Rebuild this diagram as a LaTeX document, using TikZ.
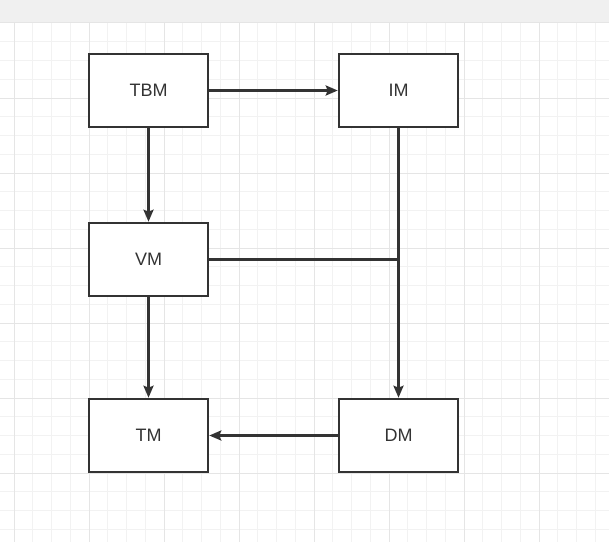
\documentclass[tikz,border=0pt]{standalone}
\usepackage{fontspec}
\setmainfont{Liberation Sans}
\usetikzlibrary{arrows.meta}
\definecolor{gridminor}{HTML}{F2F2F2}
\definecolor{gridmajor}{HTML}{E5E5E5}
\definecolor{topbar}{HTML}{F0F0F0}
\definecolor{ink}{HTML}{333333}
\begin{document}
\begin{tikzpicture}[x=0.75pt,y=-0.75pt,
  box/.style={draw=ink, line width=1.9pt, fill=white, minimum width=89.25pt, minimum height=54.75pt, inner sep=0pt, font=\fontsize{13.5}{16}\selectfont, text=ink},
  conn/.style={draw=ink, line width=1.9pt},
  arr/.style={conn, -{Stealth[length=9pt,width=7.5pt,inset=1.5pt]}}]
\useasboundingbox (0,0) rectangle (609,542);
\fill[white] (0,0) rectangle (609,542);
\foreach \i in {0,...,31} { \draw[gridminor, line width=0.75pt] ({14+\i*18.75},23) -- ({14+\i*18.75},542); }
\foreach \i in {0,...,27} { \draw[gridminor, line width=0.75pt] (0,{23+\i*18.75}) -- (609,{23+\i*18.75}); }
\foreach \i in {0,...,7} { \draw[gridmajor, line width=0.75pt] ({14+\i*75},23) -- ({14+\i*75},542); }
\foreach \i in {0,...,6} { \draw[gridmajor, line width=0.75pt] (0,{23+\i*75}) -- (609,{23+\i*75}); }
\fill[topbar] (0,0) rectangle (609,22);

\node[box] (tbm) at (148.5,90.5) {TBM};
\node[box] (im) at (398.5,90.5) {IM};
\node[box] (vm) at (148.5,259.5) {VM};
\node[box] (tm) at (148.5,435.5) {TM};
\node[box] (dm) at (398.5,435.5) {DM};

\draw[arr] (tbm.east) -- (im.west);
\draw[arr] (tbm.south) -- (vm.north);
\draw[arr] (im.south) -- (dm.north);
\coordinate (j) at (im.south |- vm.east);
\draw[conn] (vm.east) -- (j);
\draw[arr] (vm.south) -- (tm.north);
\draw[arr] (dm.west) -- (tm.east);
\end{tikzpicture}
\end{document}
